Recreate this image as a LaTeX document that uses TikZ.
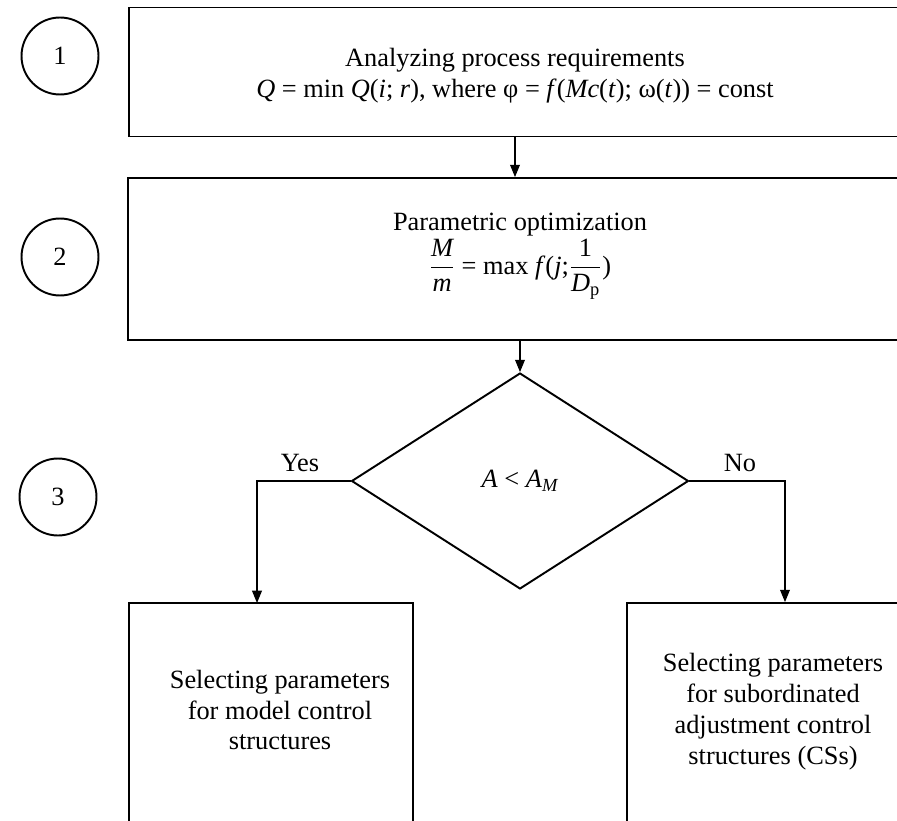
\documentclass[tikz,border=0pt]{standalone}
\usepackage{amsmath}
\usepackage{fontspec}
\setmainfont{Liberation Serif}
\usetikzlibrary{shapes.geometric,arrows.meta}

\begin{document}
\begin{tikzpicture}[x=0.02cm,y=-0.02cm,
  txt/.style={font=\fontsize{15}{17.6}\selectfont,align=center},
  box/.style={draw,line width=1.1pt,inner sep=0pt,txt},
  num/.style={draw,circle,line width=1.1pt,minimum size=1.54cm,inner sep=0pt,txt},
  arr/.style={-{Triangle[length=7pt,width=5.6pt]},line width=0.6pt}]
      \useasboundingbox (0,0) rectangle (897,821);
      \clip (0,0) rectangle (897,821);
      \node[num] (n1) at (60,56) {1};
      \node[num] (n2) at (60,257) {2};
      \node[num] (n3) at (58,497) {3};
      \node[box,minimum width=15.44cm,minimum height=2.58cm] (b1) at (515,72) {};
      \node[txt] (t1) at (515,76)
            {Analyzing process requirements\\
             \textit{Q} = min \textit{Q}(\textit{i}; \textit{r}), where φ = \textit{f}(\textit{Mc}(\textit{t}); ω(\textit{t})) = const};
      \node[box,minimum width=15.68cm,minimum height=3.24cm] (b2) at (520,259) {};
      \node[txt] (t2) at (520,256)
            {Parametric optimization\\[1pt]
             $\dfrac{\textit{M}}{\textit{m}}$ = max \textit{f}(\textit{j};$\dfrac{\text{1}}{\textit{D}_{\text{p}}}$)};
      \node[draw,diamond,line width=1.1pt,inner sep=0pt,minimum width=6.74cm,minimum height=4.32cm,txt] (dec) at (520,481)
            {\textit{A} < \textit{A}$_{\textit{M}}$};
      \node[box,minimum width=5.68cm,minimum height=6cm] (lbox) at (271,753) {};
      \node[box,minimum width=6.32cm,minimum height=6cm] (rbox) at (785,753) {};
      \node[txt] (ltxt) at (280,710) {Selecting parameters\\for model control\\structures};
      \node[txt] (rtxt) at (773,712) {Selecting parameters\\for subordinated\\adjustment control\\structures (CSs)};
      \node[txt] (yes) at (300,463) {Yes};
      \node[txt] (no) at (740,463) {No};
      \coordinate (lin) at (257,603);
      \draw[arr] (b1.south) -- (b1.south |- b2.north);
      \draw[arr] (b2.south) -- (dec.north);
      \draw[arr] (dec.west) -| (lin);
      \draw[arr] (dec.east) -| (rbox.north);
\end{tikzpicture}
\end{document}
